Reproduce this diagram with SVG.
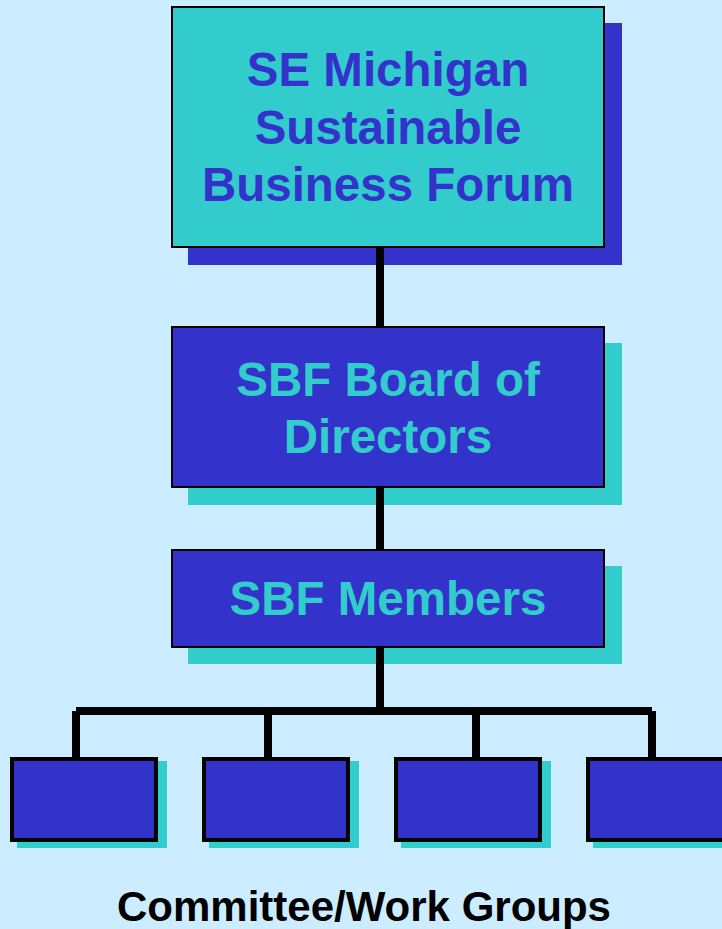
<svg xmlns="http://www.w3.org/2000/svg" width="722" height="929" viewBox="0 0 722 929">
<style>
.bg{fill:#CCECFF}
.t{font-family:"Liberation Sans",Arial,sans-serif;font-weight:bold;text-anchor:middle}
.big{font-size:47.5px}
.teal{fill:#33CCCC}
.blue{fill:#3333CC}
.main{stroke:#000;stroke-width:2}
.small{stroke:#000;stroke-width:4}
.conn{fill:#000}
</style>
<rect class="bg" x="0" y="0" width="722" height="929"/>
<g id="forum">
<rect class="blue" x="188" y="23" width="434" height="242"/>
<rect class="teal main" x="172" y="7" width="432" height="240"/>
<text class="t big blue" x="388" y="86">SE Michigan</text>
<text class="t big blue" x="388" y="143.5">Sustainable</text>
<text class="t big blue" x="388" y="201">Business Forum</text>
</g>
<g id="board">
<rect class="teal" x="188" y="343" width="434" height="162"/>
<rect class="blue main" x="172" y="327" width="432" height="160"/>
<text class="t big teal" x="388" y="396">SBF Board of</text>
<text class="t big teal" x="388" y="453">Directors</text>
</g>
<g id="members">
<rect class="teal" x="188" y="566" width="434" height="98"/>
<rect class="blue main" x="172" y="550" width="432" height="97"/>
<text class="t big teal" x="388" y="615">SBF Members</text>
</g>
<g id="connectors">
<rect class="conn" x="376" y="248" width="8" height="78"/>
<rect class="conn" x="376" y="488" width="8" height="61"/>
<rect class="conn" x="376" y="648" width="8" height="63"/>
<rect class="conn" x="76" y="707" width="576" height="8"/>
<rect class="conn" x="72" y="711" width="8" height="46"/>
<rect class="conn" x="264" y="711" width="8" height="46"/>
<rect class="conn" x="472" y="711" width="8" height="46"/>
<rect class="conn" x="648" y="711" width="8" height="46"/>
</g>
<g id="group1">
<rect class="teal" x="17" y="761" width="150" height="87"/>
<rect class="blue small" x="12" y="759" width="144" height="81"/>
</g>
<g id="group2">
<rect class="teal" x="209" y="761" width="150" height="87"/>
<rect class="blue small" x="204" y="759" width="144" height="81"/>
</g>
<g id="group3">
<rect class="teal" x="401" y="761" width="150" height="87"/>
<rect class="blue small" x="396" y="759" width="144" height="81"/>
</g>
<g id="group4">
<rect class="teal" x="593" y="761" width="150" height="87"/>
<rect class="blue small" x="588" y="759" width="144" height="81"/>
</g>
<g id="caption">
<text class="t" x="364" y="921" font-size="42" fill="#000">Committee/Work Groups</text>
</g>
</svg>
